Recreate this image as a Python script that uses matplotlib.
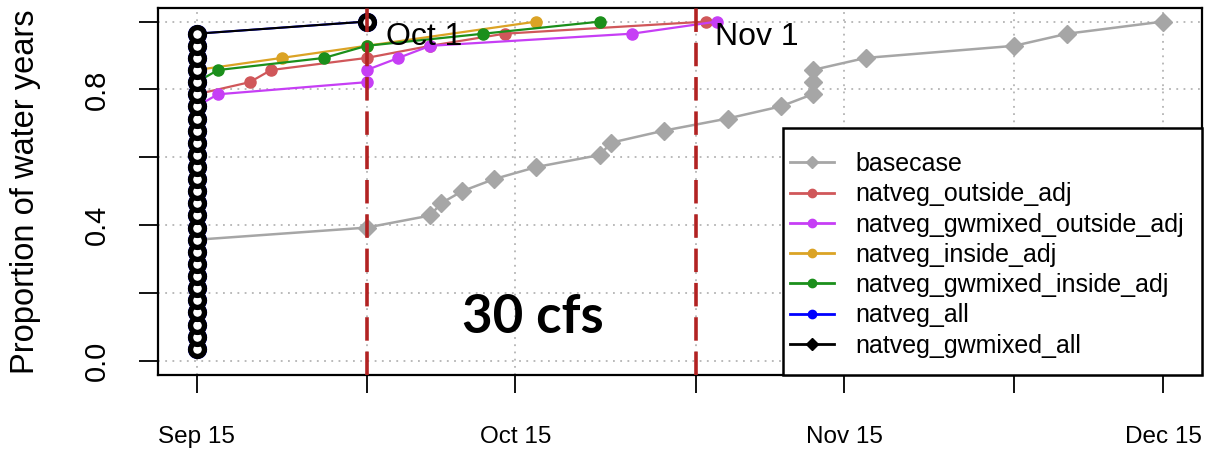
import numpy as np
import pandas as pd
import matplotlib
matplotlib.use("Agg")
import matplotlib.pyplot as plt
from matplotlib.lines import Line2D
from matplotlib.patches import Rectangle

plt.rcParams['font.family'] = ['Liberation Sans', 'DejaVu Sans']

YEAR = "2001-"
n_years = 28

# dates (month-day) and ranks (out of 28 water years) for each scenario
base_dates = ["09-15", "10-01", "10-07", "10-08", "10-10", "10-13", "10-17", "10-23", "10-24",
              "10-29", "11-04", "11-09", "11-12", "11-12", "11-12", "11-17", "12-01", "12-06", "12-15"]
base_rank = list(range(10, 29))

out_dates = ["09-15", "09-20", "09-22", "10-01", "10-07", "10-14", "11-02"]
out_rank = list(range(22, 29))

gwout_dates = ["09-15", "09-17", "10-01", "10-01", "10-04", "10-07", "10-26", "11-03"]
gwout_rank = list(range(21, 29))

in_dates = ["09-15", "09-23", "10-01", "10-17"]
in_rank = [24, 25, 26, 28]

gwin_dates = ["09-15", "09-17", "09-27", "10-01", "10-12", "10-23"]
gwin_rank = list(range(23, 29))

all_dates = ["09-15"] * 27 + ["10-01"]
all_rank = list(range(1, 29))

gwall_dates = ["09-15"] * 27 + ["10-01"]
gwall_rank = list(range(1, 29))

tick_dates = ["09-15", "10-01", "10-15", "11-01", "11-15", "12-01", "12-15"]
tick_labels = ["Sep 15", "", "Oct 15", "", "Nov 15", "", "Dec 15"]
mark_dates = ["10-01", "11-01"]
mark_labels = ["Oct 1", "Nov 1"]


def to_dt(lst):
    return pd.to_datetime([YEAR + s for s in lst])


series = [
    ("basecase", base_dates, base_rank, "#a6a6a6", "D"),
    ("natveg_outside_adj", out_dates, out_rank, "#d0575a", "o"),
    ("natveg_gwmixed_outside_adj", gwout_dates, gwout_rank, "#c63ef5", "o"),
    ("natveg_inside_adj", in_dates, in_rank, "#dba325", "o"),
    ("natveg_gwmixed_inside_adj", gwin_dates, gwin_rank, "#1b8f1b", "o"),
    ("natveg_all", all_dates, all_rank, "#0000ff", "o"),
    ("natveg_gwmixed_all", gwall_dates, gwall_rank, "#000000", "o"),
]

fig = plt.figure(figsize=(12.06, 4.5), dpi=100)
ax = fig.add_axes([158 / 1206, 75.5 / 450, 1043.6 / 1206, 366.5 / 450])

ticks = to_dt(tick_dates)
for t in ticks:
    ax.axvline(t, color="#b4b4b4", lw=1.3, ls=(0, (1, 3)), zorder=0)
for yv in np.arange(0, 1.01, 0.2):
    ax.axhline(yv, color="#b4b4b4", lw=1.3, ls=(0, (1, 3)), zorder=0)

handles = []
for name, d, r, col, mk in series:
    x = to_dt(d)
    y = np.array(r) / n_years
    if name == "natveg_gwmixed_all" or name == "natveg_all":
        ax.plot(x, y, color=col, lw=1.5, marker="o", ms=10, mfc="white", mec=col, mew=3.8, zorder=3)
    elif mk == "D":
        ax.plot(x, y, color=col, lw=1.8, marker="D", ms=9, mec=col, zorder=2)
    else:
        ax.plot(x, y, color=col, lw=1.6, marker="o", ms=8, mec=col, zorder=2)
    lmk = "D" if name in ("basecase", "natveg_gwmixed_all") else "o"
    handles.append(Line2D([], [], color=col, lw=2, marker=lmk, ms=6, mec=col, label=name))

for d, lab in zip(to_dt(mark_dates), mark_labels):
    ax.axvline(d, color="#b22222", lw=2.6, ls=(0, (6.5, 3)), zorder=4)
    ax.text(d + pd.Timedelta(days=1.8), 0.955, lab, fontsize=23, va="center", ha="left", zorder=5)

ax.text(pd.Timestamp(YEAR + "10-16") + pd.Timedelta(hours=16), 0.082, "30 cfs",
        fontsize=38, fontweight="bold", family=["Lato", "DejaVu Sans"],
        ha="center", va="baseline", zorder=5)

x0 = pd.Timestamp(YEAR + "09-15")
x1 = pd.Timestamp(YEAR + "12-15")
span = (x1 - x0) * 0.04
ax.set_xlim(x0 - span, x1 + span)
ax.set_ylim(-0.04, 1.04)

ax.set_xticks(ticks)
ax.set_xticklabels(tick_labels, fontsize=17.5)
ax.set_yticks(np.arange(0, 1.01, 0.2))
ax.set_yticklabels(["0.0", "", "0.4", "", "0.8", ""], fontsize=21, rotation=90, va="center")
ax.tick_params(axis="x", length=13, width=1.3, pad=24)
ax.tick_params(axis="y", length=14, width=1.3, pad=20)
ax.set_ylabel("Proportion of water years", fontsize=23.5, labelpad=30)

for sp in ax.spines.values():
    sp.set_linewidth(1.6)

# legend box drawn like R's bottomright legend
box = Rectangle((0.599, 0.0), 0.401, 0.6726, transform=ax.transAxes,
                facecolor="white", edgecolor="black", lw=1.8, zorder=6, clip_on=False)
ax.add_patch(box)
leg = ax.legend(handles=handles, loc="upper left", bbox_to_anchor=(0.6056, 0.607),
                fontsize=18, borderaxespad=0, borderpad=0, frameon=False,
                handlelength=1.75, handletextpad=0.85, labelspacing=0.25)
leg.set_zorder(7)

fig.savefig("out.png", dpi=100)
